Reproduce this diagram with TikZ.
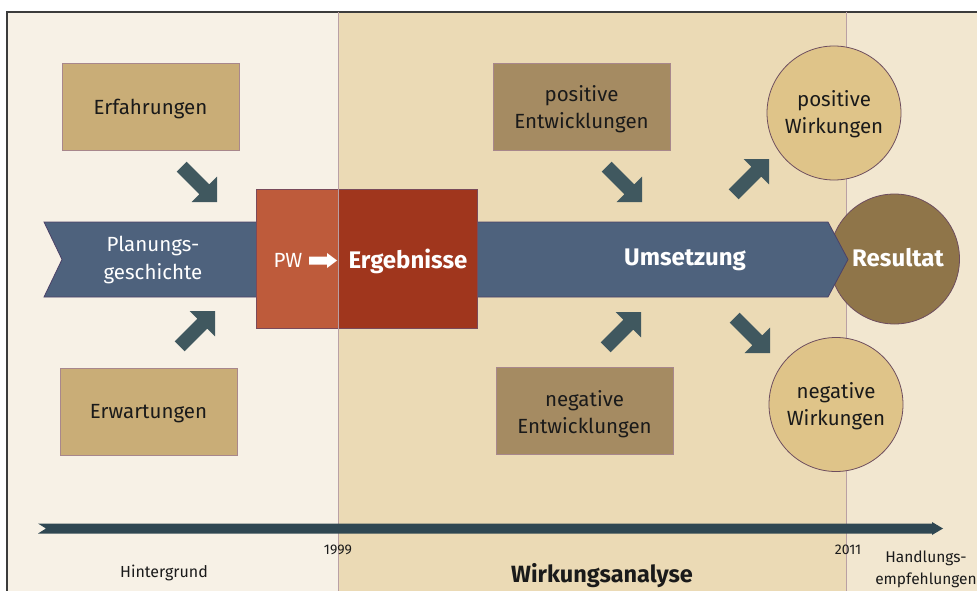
\documentclass[tikz,border=0pt]{standalone}
\usepackage{fontspec}
\setmainfont{Fira Sans}
\definecolor{bgleft}{HTML}{F7F1E6}
\definecolor{bgmid}{HTML}{EBDAB5}
\definecolor{bgright}{HTML}{F2E7D0}
\definecolor{divline}{HTML}{B9A0A4}
\definecolor{framecol}{HTML}{3C3C3C}
\definecolor{boxlight}{HTML}{C9AD77}
\definecolor{boxdark}{HTML}{A58B62}
\definecolor{boxline}{HTML}{A8878C}
\definecolor{mainblue}{HTML}{4E627D}
\definecolor{blueline}{HTML}{4C4268}
\definecolor{pwcol}{HTML}{BE5B3B}
\definecolor{ergcol}{HTML}{A0361D}
\definecolor{redline}{HTML}{7A4A5A}
\definecolor{circlight}{HTML}{DFC489}
\definecolor{rescol}{HTML}{8F7549}
\definecolor{circline}{HTML}{6D4D5E}
\definecolor{fatcol}{HTML}{40585F}
\definecolor{timecol}{HTML}{2F4752}
\definecolor{textdark}{HTML}{1A1A1A}
\begin{document}
\begin{tikzpicture}[x=1pt,y=-1pt,
  boxtext/.style={align=center, text=textdark, inner sep=0pt, font=\fontsize{20.5}{27}\selectfont},
  lbox/.style={draw=boxline, line width=0.8pt, fill=boxlight, minimum width=177pt, minimum height=87pt},
  dbox/.style={lbox, fill=boxdark},
  circ/.style={circle, draw=circline, line width=0.8pt, fill=circlight, minimum size=134pt, inner sep=0pt},
  rescirc/.style={circle, draw=circline, line width=0.8pt, fill=rescol, minimum size=130pt, inner sep=0pt},
  redbox/.style={draw=redline, line width=0.8pt, minimum height=139pt, inner sep=0pt},
  wtext/.style={text=white, align=center, inner sep=0pt, font=\fontsize{20.5}{28}\selectfont},
  wbold/.style={text=white, inner sep=0pt, font=\bfseries\fontsize{24}{28}\selectfont},
  btext/.style={text=textdark, align=center, inner sep=0pt},
  fatarr/.pic={\fill[fatcol] (0,0) -- (-18,-18) -- (-18,-7) -- (-50,-7) -- (-50,7) -- (-18,7) -- (-18,18) -- cycle;}
]
\useasboundingbox (0,0) rectangle (977,591);
% backgrounds
\fill[bgleft] (7,12) rectangle (338,591);
\fill[bgmid] (338,12) rectangle (846,591);
\fill[bgright] (846,12) rectangle (977,591);
\draw[framecol, line width=1.5pt] (7,591) -- (7,12) -- (977,12);
% divider at 2011 (below circles)
\draw[divline, line width=0.9pt] (846,12) -- (846,591);
% boxes
\node[lbox, label={[boxtext, yshift=-2pt]center:Erfahrungen}] (erf) at (150.5,106.5) {};
\node[lbox, label={[boxtext, yshift=-2pt]center:Erwartungen}] (erw) at (148.5,411.5) {};
\node[dbox, label={[boxtext, yshift=-3pt]center:{positive\\Entwicklungen}}] (pos) at (581.5,106.5) {};
\node[dbox, label={[boxtext, yshift=-3pt]center:{negative\\Entwicklungen}}] (neg) at (584.5,411) {};
% circles
\node[circ, label={[boxtext, yshift=-1pt]center:{positive\\Wirkungen}}] (pwirk) at (834,113) {};
\node[circ, label={[boxtext, yshift=-2pt]center:{negative\\Wirkungen}}] (nwirk) at (836,404.5) {};
\node[rescirc] (res) at (894.5,259) {};
% main arrow
\filldraw[fill=mainblue, draw=blueline, line width=0.8pt]
  (44,222) -- (828,222) -- (848,259.5) -- (828,297) -- (44,297) -- (62,259.5) -- cycle;
% red boxes
\node[redbox, fill=pwcol, minimum width=82pt] (pw) at (297,258.5) {};
\node[redbox, fill=ergcol, minimum width=139pt] (erg) at (407.5,258.5) {};
\draw[divline, line width=0.9pt] (338,12) -- (338,591);
% texts on arrow
\node[wtext] (plan) at (153,259.5) {Planungs-\\geschichte};
\node[wtext] (pwt) at (288,260) {PW};
\node[wbold] (ergt) at (408,261) {Ergebnisse};
\node[wbold] (ums) at (685,260) {Umsetzung};
\node[wbold] (rest) at (898,258) {Resultat};
\coordinate (wa1) at (309,260.5);
\coordinate (wa2) at (337,260.5);
\fill[white] (wa1) ++(0,-4) -- ++(18,0) -- ++(0,-3.5) -- (wa2) -- ++(-10,7.5) -- ++(0,-3.5) -- ++(-18,0) -- cycle;
% fat arrows
\pic[rotate=-45] at (217,202) {fatarr};
\pic[rotate=45] at (215,311) {fatarr};
\pic[rotate=-45] at (642,202) {fatarr};
\pic[rotate=45] at (641,312) {fatarr};
\pic[rotate=45] at (769,159) {fatarr};
\pic[rotate=-45] at (770,353) {fatarr};
% timeline
\fill[timecol] (38,523.5) -- (932,523.5) -- (932,522) -- (943,528.5) -- (932,535) -- (932,533.5) -- (38,533.5) -- (46,528.5) -- cycle;
% bottom labels
\node[btext, font=\fontsize{14}{16}\selectfont] (y1999) at (338,550) {1999};
\node[btext, font=\fontsize{14}{16}\selectfont] (y2011) at (848,550) {2011};
\node[btext, font=\fontsize{16}{18}\selectfont] (hint) at (164,573) {Hintergrund};
\node[btext, font=\bfseries\fontsize{23.5}{26}\selectfont] (wirk) at (602,576) {Wirkungsanalyse};
\node[btext, font=\fontsize{15.5}{22}\selectfont] (hand) at (926,569) {Handlungs-\\empfehlungen};
\end{tikzpicture}
\end{document}
